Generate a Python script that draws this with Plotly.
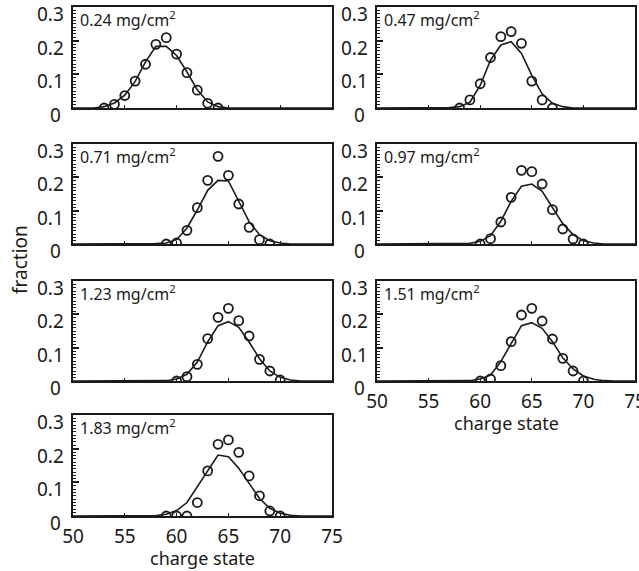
import plotly.graph_objects as go

# ---- data ----
labels = ["0.24", "0.47", "0.71", "0.97", "1.23", "1.51", "1.83"]

q1 = [53, 54, 55, 56, 57, 58, 59, 60, 61, 62, 63, 64]
f1 = [0.0, 0.011, 0.037, 0.080, 0.130, 0.189, 0.209, 0.160, 0.105, 0.053, 0.014, 0.0]
cq1 = [50, 52, 53, 54, 55, 56, 57, 58, 59, 60, 61, 62, 63, 64, 65, 75]
cf1 = [0, 0.0, 0.004, 0.015, 0.038, 0.079, 0.137, 0.183, 0.183, 0.156, 0.107, 0.054, 0.018, 0.004, 0.0, 0]

q2 = [58, 59, 60, 61, 62, 63, 64, 65, 66, 67]
f2 = [0.0, 0.024, 0.072, 0.150, 0.212, 0.227, 0.192, 0.080, 0.024, 0.0]
cq2 = [50, 56, 57, 58, 59, 60, 61, 62, 63, 64, 65, 66, 67, 68, 69, 75]
cf2 = [0, 0.0, 0.001, 0.004, 0.017, 0.067, 0.142, 0.187, 0.197, 0.162, 0.097, 0.042, 0.014, 0.004, 0.0, 0]

q3 = [59, 60, 61, 62, 63, 64, 65, 66, 67, 68, 69]
f3 = [0.0, 0.003, 0.041, 0.109, 0.191, 0.263, 0.206, 0.120, 0.050, 0.013, 0.0]
cq3 = [50, 57, 58, 59, 60, 61, 62, 63, 64, 65, 66, 67, 68, 69, 70, 71, 75]
cf3 = [0, 0.0, 0.001, 0.003, 0.013, 0.048, 0.102, 0.161, 0.191, 0.189, 0.127, 0.067, 0.028, 0.010, 0.003, 0.0, 0]

q4 = [60, 61, 62, 63, 64, 65, 66, 67, 68, 69, 70]
f4 = [0.0, 0.016, 0.066, 0.140, 0.221, 0.217, 0.180, 0.103, 0.045, 0.015, 0.0]
cq4 = [50, 58, 59, 60, 61, 62, 63, 64, 65, 66, 67, 68, 69, 70, 71, 72, 75]
cf4 = [0, 0.0, 0.002, 0.008, 0.025, 0.068, 0.128, 0.173, 0.180, 0.158, 0.108, 0.061, 0.028, 0.010, 0.003, 0.0, 0]

q5 = [60, 61, 62, 63, 64, 65, 66, 67, 68, 69, 70]
f5 = [0.0, 0.013, 0.050, 0.127, 0.191, 0.218, 0.181, 0.135, 0.065, 0.030, 0.003]
cq5 = [50, 58, 59, 60, 61, 62, 63, 64, 65, 66, 67, 68, 69, 70, 71, 72, 75]
cf5 = [0, 0.0, 0.001, 0.006, 0.020, 0.057, 0.117, 0.166, 0.178, 0.161, 0.117, 0.067, 0.030, 0.011, 0.003, 0.0, 0]

q6 = [60, 61, 62, 63, 64, 65, 66, 67, 68, 69, 70]
f6 = [0.0, 0.006, 0.046, 0.118, 0.198, 0.218, 0.180, 0.126, 0.068, 0.030, 0.0]
cq6 = [50, 58, 59, 60, 61, 62, 63, 64, 65, 66, 67, 68, 69, 70, 71, 72, 73, 75]
cf6 = [0, 0.0, 0.001, 0.006, 0.018, 0.058, 0.113, 0.166, 0.175, 0.158, 0.118, 0.070, 0.036, 0.015, 0.005, 0.001, 0.0, 0]

q7 = [59, 60, 61, 62, 63, 64, 65, 66, 67, 68, 69, 70]
f7 = [0.0, 0.0, 0.0, 0.040, 0.134, 0.213, 0.226, 0.189, 0.119, 0.060, 0.015, 0.0]
cq7 = [50, 57, 58, 59, 60, 61, 62, 63, 64, 65, 66, 67, 68, 69, 70, 71, 72, 75]
cf7 = [0, 0.0, 0.001, 0.005, 0.016, 0.040, 0.087, 0.132, 0.181, 0.176, 0.142, 0.097, 0.052, 0.023, 0.008, 0.002, 0.0, 0]

y_ticks = [0, 0.1, 0.2, 0.3]
y_ticktext = ["0", "0.1", "0.2", "0.3"]
x_ticks = [50, 55, 60, 65, 70, 75]

panels = [
    (q1, f1, cq1, cf1), (q2, f2, cq2, cf2), (q3, f3, cq3, cf3), (q4, f4, cq4, cf4),
    (q5, f5, cq5, cf5), (q6, f6, cq6, cf6), (q7, f7, cq7, cf7),
]

# ---- layout geometry (paper fractions) ----
W, H = 639, 571
col_x = [(73 / W, 332 / W), (377 / W, 635 / W)]
row_y = [(7, 108), (144, 244), (281, 381), (415, 516)]
row_dom = [(1 - b / H, 1 - t / H) for t, b in row_y]

cells = [(0, 0), (0, 1), (1, 0), (1, 1), (2, 0), (2, 1), (3, 0)]
bottom_panels = {5, 6}

FONT = "Noto Sans"
INK = "#1a1a1a"

fig = go.Figure()
layout = dict(
    template="none",
    width=W, height=H, margin=dict(l=0, r=0, t=0, b=0, autoexpand=False),
    paper_bgcolor="white", plot_bgcolor="white", showlegend=False,
    font=dict(family=FONT, color=INK, size=16),
)
annotations = []

for i, ((q, f, cq, cf), (r, c)) in enumerate(zip(panels, cells)):
    n = i + 1
    xa = "x" if n == 1 else f"x{n}"
    ya = "y" if n == 1 else f"y{n}"
    fig.add_trace(go.Scatter(x=cq, y=cf, mode="lines", xaxis=xa, yaxis=ya,
                             line=dict(color=INK, width=1.6), hoverinfo="skip"))
    fig.add_trace(go.Scatter(x=q, y=f, mode="markers", xaxis=xa, yaxis=ya,
                             marker=dict(symbol="circle-open", size=9, color=INK,
                                         line=dict(width=1.8, color=INK))))
    xkey = "xaxis" if n == 1 else f"xaxis{n}"
    ykey = "yaxis" if n == 1 else f"yaxis{n}"
    layout[xkey] = dict(
        domain=list(col_x[c]), anchor=ya, range=[50, 75], automargin=False,
        tickvals=x_ticks, ticks="inside", ticklen=3, tickwidth=1.2, tickcolor=INK,
        showticklabels=(i in bottom_panels), tickfont=dict(size=19, family=FONT),
        ticklabeloverflow="allow", ticklabelstandoff=2,
        showline=True, linewidth=2.2, linecolor=INK, mirror=True,
        showgrid=False, zeroline=False,
    )
    layout[ykey] = dict(
        domain=list(row_dom[r]), anchor=xa, range=[0, 0.3], automargin=False,
        tickvals=y_ticks, ticks="inside", ticklen=6, showticklabels=False,
        tickwidth=1.5, tickcolor=INK,
        minor=dict(dtick=0.01, ticks="inside", ticklen=3, tickwidth=1, tickcolor=INK),
        showline=True, linewidth=2.2, linecolor=INK, mirror=True,
        showgrid=False, zeroline=False,
    )
    # y tick labels (drawn slightly below their ticks, as in the original)
    for tv, tt in zip(y_ticks, y_ticktext):
        annotations.append(dict(
            text=tt, xref=f"{xa} domain", yref=ya, x=0, y=tv,
            xanchor="right", yanchor="middle", xshift=-7 if tv else -10, yshift=-7,
            showarrow=False, font=dict(size=19, family=FONT, color=INK),
        ))
    annotations.append(dict(
        text=f"{labels[i]} mg/cm<sup>2</sup>", xref=f"{xa} domain", yref=f"{ya} domain",
        x=0.02, y=1.02, xanchor="left", yanchor="top", showarrow=False,
        font=dict(size=16, family=FONT, color=INK),
    ))
    if i in bottom_panels:
        annotations.append(dict(
            text="charge state", xref=f"{xa} domain", yref=f"{ya} domain",
            x=0.5, y=0, xanchor="center", yanchor="middle", yshift=-42,
            showarrow=False, font=dict(size=18, family=FONT, color=INK),
        ))

annotations.append(dict(text="fraction", xref="paper", yref="paper",
                        x=20 / W, y=1 - 260 / H, textangle=-90, showarrow=False,
                        xanchor="center", yanchor="middle",
                        font=dict(size=19, family=FONT, color=INK)))
layout["annotations"] = annotations
fig.update_layout(**layout)
fig.write_html("out.html")
